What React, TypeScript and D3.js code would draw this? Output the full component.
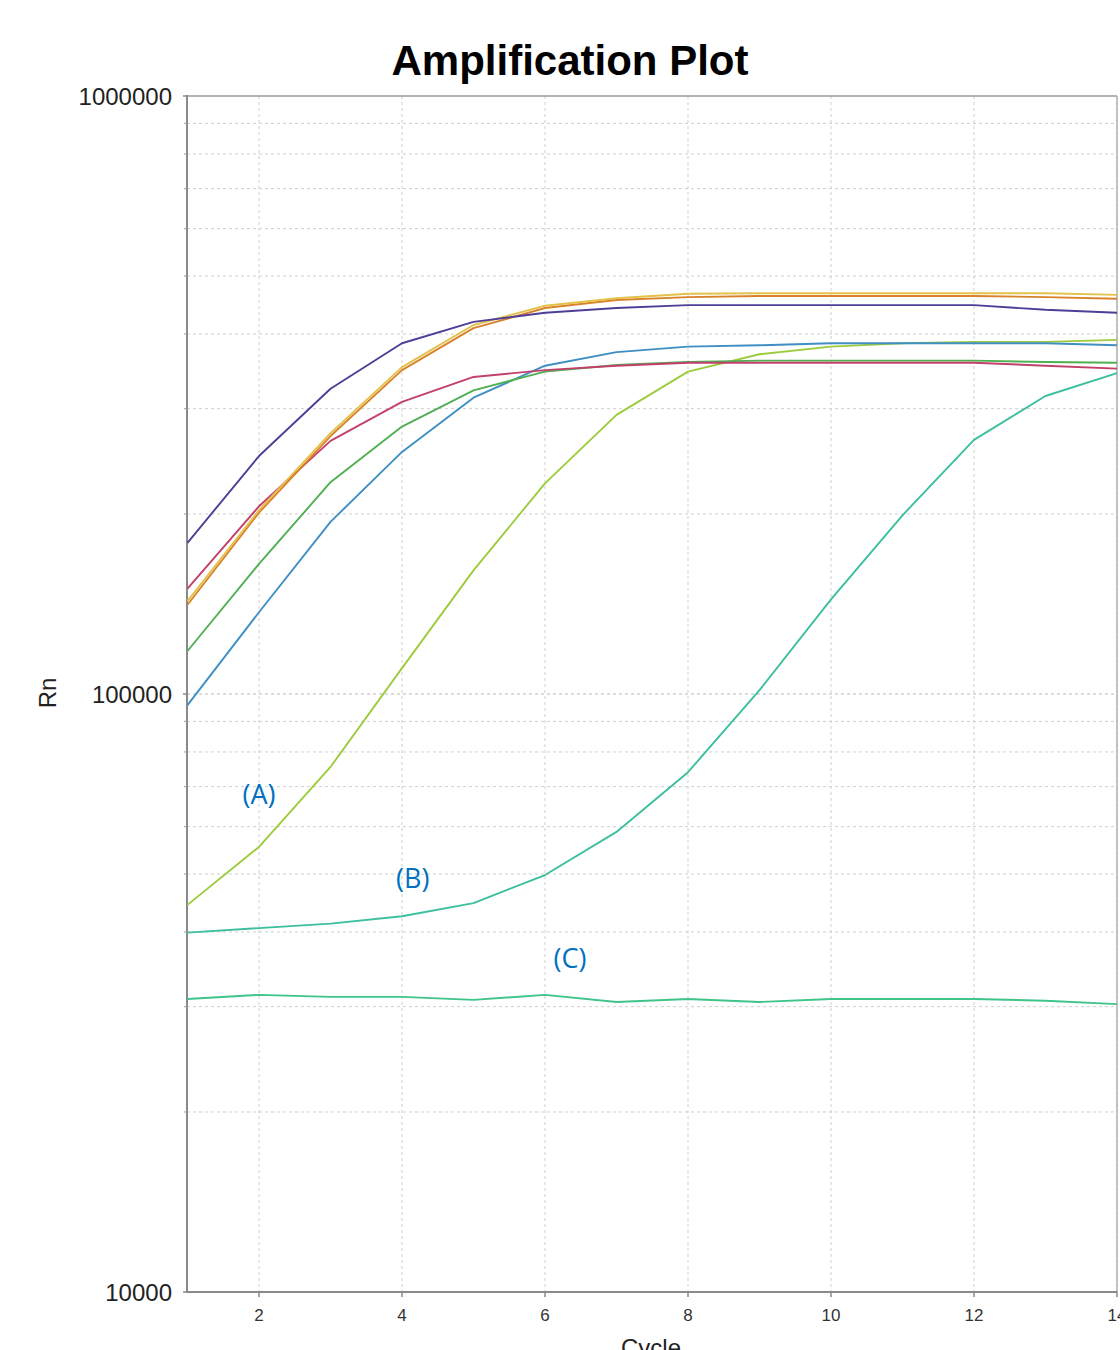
import React from 'react';
import * as d3 from 'd3';

// cycles
const cycles = [1, 2, 3, 4, 5, 6, 7, 8, 9, 10, 11, 12, 13, 14];
const xTicks = [2, 4, 6, 8, 10, 12, 14];
const yTicks = [10000, 100000, 1000000];

// Rn values per well
const purple = [179000, 250000, 324000, 386000, 419000, 434000, 442000, 447000, 447000, 447000, 447000, 447000, 439000, 434000];
const red = [150000, 206000, 265000, 308000, 339000, 348000, 354000, 358000, 358000, 358000, 358000, 358000, 354000, 350000];
const orange = [141000, 201000, 270000, 348000, 409000, 442000, 456000, 461000, 463000, 463000, 463000, 463000, 461000, 458000];
const yellow = [143000, 203000, 273000, 352000, 414000, 446000, 459000, 467000, 468000, 468000, 468000, 468000, 468000, 465000];
const green = [118000, 165000, 226000, 280000, 322000, 346000, 355000, 359000, 361000, 361000, 361000, 361000, 359000, 358000];
const blue = [95800, 137000, 194000, 254000, 313000, 354000, 373000, 381000, 383000, 386000, 386000, 386000, 386000, 383000];
const wellA = [44400, 55500, 75500, 110500, 161000, 225000, 293000, 346000, 370000, 381000, 386000, 388000, 388000, 391000];
const wellB = [39900, 40600, 41300, 42500, 44700, 49800, 58800, 74000, 101500, 144000, 199000, 266000, 315000, 344000];
const wellC = [30900, 31400, 31150, 31150, 30800, 31400, 30550, 30900, 30550, 30900, 30900, 30900, 30700, 30300];

const series = [
  { name: 'C', values: wellC, color: '#3fc48a' },
  { name: 'B', values: wellB, color: '#3cbf9e' },
  { name: 'A', values: wellA, color: '#9ccc3c' },
  { name: 'blue', values: blue, color: '#3f8fc4' },
  { name: 'green', values: green, color: '#4fb052' },
  { name: 'red', values: red, color: '#c2406c' },
  { name: 'orange', values: orange, color: '#d9822b' },
  { name: 'yellow', values: yellow, color: '#e2c24a' },
  { name: 'purple', values: purple, color: '#4f3e98' },
];

const notes = [
  { label: '(A)', cycle: 2, value: 65500 },
  { label: '(B)', cycle: 4.15, value: 47300 },
  { label: '(C)', cycle: 6.35, value: 34860 },
];

const W = 1120;
const H = 1350;
const margin = { top: 96, left: 187, right: 3, bottom: 58 };

const App = () => {
  const x = d3.scaleLinear().domain([1, 14]).range([margin.left + 0.5, W - margin.right]);
  const y = d3.scaleLog().domain([10000, 1000000]).range([H - margin.bottom, margin.top]);

  // minor log grid values 2..9 per decade
  const minor: number[] = [];
  [10000, 100000].forEach(d => {
    for (let k = 2; k <= 9; k++) minor.push(d * k);
  });

  const line = d3.line<number>()
    .x((_, i) => x(cycles[i]))
    .y(d => y(d));

  const x0 = margin.left;
  const x1 = W - margin.right;
  const y0 = margin.top;
  const y1 = H - margin.bottom;

  return (
    <svg width={W} height={H} style={{ position: 'absolute', left: 0, top: 0, display: 'block', background: '#fff' }}
      fontFamily="'Liberation Sans', Arial, sans-serif">
      <text x={570} y={75} textAnchor="middle" fontSize={42} fontWeight="bold" fill="#000">Amplification Plot</text>

      {/* grid */}
      <g stroke="#cfcfcf" strokeWidth={1} strokeDasharray="3,3">
        {minor.map(v => (
          <line key={'h' + v} x1={x0} x2={x1} y1={y(v)} y2={y(v)} />
        ))}
        {yTicks.slice(1, 2).map(v => (
          <line key={'hm' + v} x1={x0} x2={x1} y1={y(v)} y2={y(v)} stroke="#b8b8b8" />
        ))}
        {xTicks.map(c => (
          <line key={'v' + c} x1={x(c)} x2={x(c)} y1={y0} y2={y1} />
        ))}
      </g>

      {/* border */}
      <line x1={x0} x2={x1} y1={y0} y2={y0} stroke="#9a9a9a" strokeWidth={1.5} />
      <line x1={x1} x2={x1} y1={y0} y2={y1} stroke="#b0b0b0" strokeWidth={1.5} />
      <line x1={x0} x2={x0} y1={y0 - 1} y2={y1 + 1} stroke="#8a8a8a" strokeWidth={2} />
      <line x1={x0 - 1} x2={x1} y1={y1} y2={y1} stroke="#8a8a8a" strokeWidth={2} />

      {/* y ticks */}
      {yTicks.map(v => (
        <g key={'yt' + v}>
          <line x1={x0 - 4} x2={x0} y1={y(v)} y2={y(v)} stroke="#8a8a8a" strokeWidth={1.5} />
          <text x={172} y={y(v)} dy="0.36em" textAnchor="end" fontSize={24} fill="#222">{v}</text>
        </g>
      ))}
      {minor.map(v => (
        <line key={'ym' + v} x1={x0 - 3} x2={x0} y1={y(v)} y2={y(v)} stroke="#9a9a9a" strokeWidth={1} />
      ))}

      {/* x ticks */}
      {xTicks.map(c => (
        <g key={'xt' + c}>
          <line x1={x(c)} x2={x(c)} y1={y1} y2={y1 + 5} stroke="#8a8a8a" strokeWidth={1.5} />
          <text x={x(c)} y={y1 + 29} textAnchor="middle" fontSize={17} fill="#333">{c}</text>
        </g>
      ))}

      <text transform={`translate(56,${(y0 + y1) / 2 - 1}) rotate(-90)`} textAnchor="middle" fontSize={24} fill="#222">Rn</text>
      <text x={651} y={1356} textAnchor="middle" fontSize={24} fill="#222">Cycle</text>

      {/* curves */}
      <g fill="none" strokeLinejoin="round">
        {series.map(s => (
          <path key={s.name} d={line(s.values) || ''} stroke={s.color} strokeWidth={1.9} />
        ))}
      </g>

      {notes.map(n => (
        <text key={n.label} x={x(n.cycle)} y={y(n.value)} textAnchor="middle" fontSize={27}
          fontFamily="'Open Sans', sans-serif" fill="#0070c0">{n.label}</text>
      ))}
    </svg>
  );
};

export default App;
